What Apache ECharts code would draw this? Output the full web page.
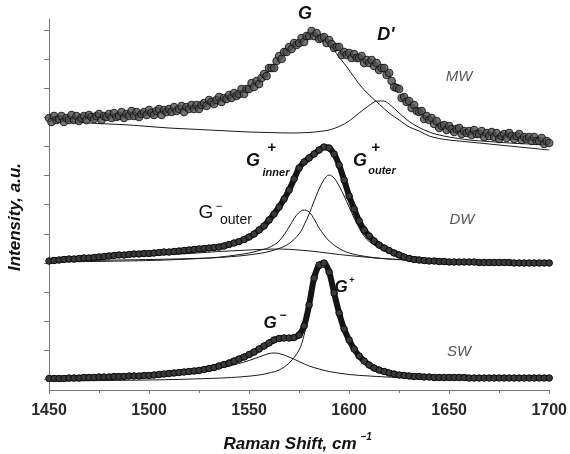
<!DOCTYPE html>
<html>
<head>
<meta charset="utf-8">
<script src="https://cdn.jsdelivr.net/npm/echarts@6/dist/echarts.min.js"></script>
<style>
html,body{margin:0;padding:0;background:#fff;}
#c{width:570px;height:454px;}
</style>
</head>
<body>
<div id="c"></div>
<script>
// Raman shift sampling (cm^-1): MW measured every 1.25, DW/SW every 2.5
const xStart = 1450, mwStep = 1.25, bandStep = 2.5;
const xTicks = [1450, 1500, 1550, 1600, 1650, 1700];
const yTicks = [11, 40, 69, 98, 127, 156, 186, 215, 244, 273, 302, 331, 360];

// Measured spectra (offset intensities, a.u.)
const mwData = [
  272,268,274,270,271,274,268,272,
  270,275,270,274,269,272,274,270,
  275,273,271,274,276,270,274,273,
  276,272,277,273,274,278,272,276,
  274,279,274,278,273,276,278,275,
  280,277,275,279,281,275,280,278,
  281,278,283,279,281,284,278,283,
  281,285,281,285,281,285,287,284,
  290,288,286,290,293,288,292,291,
  295,292,297,294,296,301,296,301,
  301,307,303,309,306,312,316,314,
  322,322,322,329,334,331,338,338,
  343,341,347,345,347,352,348,354,
  354,359,354,357,351,352,353,347,
  350,346,342,343,343,335,338,335,
  337,332,336,332,332,334,327,330,
  327,330,324,327,320,322,322,315,
  317,309,303,302,301,292,293,288,
  289,282,285,279,278,279,271,274,
  270,272,266,269,262,264,265,260,
  264,261,258,261,262,256,259,257,
  259,255,260,256,256,259,253,257,
  254,258,253,257,251,254,256,252,
  257,254,251,254,256,250,253,251,
  253,249,253,249,249,252,246,249,
  247];
const dwData = [
  129,129.5,130,130.5,131,131,131.5,132,132,132.5,
  133,133.5,134,134.5,135,135,135.5,136,136,136.5,
  136.5,137,137.5,138,138,138.5,139,139.5,140,140.5,
  141,141.5,142,142.5,143,144,145.5,147,148.5,150.5,
  153,156,160,164,170,176,183,191,200,211,
  222,228,232,236,240,243,242,236,225,210,
  194,181,169,160,154,149,145,142,139.5,137,
  135,133,131.5,130.5,130,129.5,129,129,128.5,128.5,
  128,128,128,128,128,128,127.5,127.5,127.5,127.5,
  127.5,127.5,127.5,127,127,127,127,127,127,127,
  127];
const swData = [
  11.5,11.5,11.5,11.5,12,12,12,12.5,12.5,12.5,
  13,13,13,13.5,13.5,13.5,14,14,14,14.5,
  14.5,15,15.5,16,16.5,17,17.5,18,18.5,19,
  19.5,20.5,21.5,22.5,24,25.5,27,29,31,33,
  35.5,38,41,44,47,50,51.5,52,52,52.5,
  55,64,85,112,125,127,118,97,77,61,
  50,41,34,29,25,22,20,18.5,17,16,
  15,14.5,14,13.5,13.5,13,13,12.5,12.5,12.5,
  12.5,12.5,12.5,12.5,12,12,12,12,12,12,
  12,12,12,12,12,12,12,12,12,12,
  12];

// Fitted components [shift, intensity]
const mwFitG = [[1450,270],[1460,271.5],[1470,272.5],[1480,274],[1490,275.5],[1500,277],[1510,279.5],[1520,282],[1530,287],[1540,293],[1545,296.5],[1550,302],[1555,309.5],[1560,319],[1565,331],[1570,341],[1575,347.5],[1580,355],[1582.5,356.5],[1585,354],[1590,346],[1595,333],[1600,320],[1605,306],[1610,295],[1615,286],[1620,277],[1625,270],[1630,263],[1635,259],[1640,254],[1645,251.5],[1650,250],[1660,248],[1670,246],[1680,244],[1690,242],[1700,240]];
const mwFitD = [[1450,270],[1460,268.5],[1470,267],[1480,266],[1490,265],[1500,263.5],[1510,262],[1520,261],[1530,260],[1540,259],[1550,258],[1560,257.5],[1570,257],[1580,257.5],[1585,258.5],[1590,260],[1595,263.5],[1600,269],[1605,277],[1610,284.5],[1614,289],[1617,289],[1620,286],[1625,277],[1630,268.5],[1635,262.5],[1640,258],[1645,255],[1650,253],[1660,250],[1670,248.5],[1680,247],[1690,246],[1700,245]];
const dwFitOuterP = [[1450,129],[1500,130.5],[1530,132],[1545,134],[1555,136.5],[1560,138.5],[1565,141.5],[1570,146.5],[1575,156],[1577.5,165],[1580,176],[1582.5,189],[1585,201],[1587.5,210.5],[1590,215],[1592.5,212],[1595,204],[1597.5,194],[1600,183],[1602.5,172],[1605,162],[1607.5,154],[1610,148.5],[1615,142],[1620,138],[1630,134],[1640,131.5],[1650,130],[1670,128.5],[1700,127]];
const dwFitInnerP = [[1450,128],[1500,129.5],[1530,132],[1540,134],[1550,137],[1555,139.5],[1560,142.5],[1565,149],[1570,163],[1572.5,171.5],[1575,177.5],[1577.5,180],[1580,178],[1582.5,171],[1585,162],[1587.5,155],[1590,149],[1595,141.5],[1600,137],[1610,133],[1620,131],[1640,129],[1670,128],[1700,127]];
const dwFitOuterM = [[1450,131],[1480,133],[1500,134.5],[1520,136.5],[1535,138.5],[1545,139.5],[1555,140.5],[1565,141],[1575,140],[1585,138],[1595,135.5],[1605,133.5],[1620,131],[1640,129.5],[1660,128.5],[1700,127]];
const swFitM = [[1450,11],[1480,12.5],[1500,14],[1510,15.5],[1520,17.5],[1530,20],[1540,24],[1545,26.5],[1550,29.5],[1555,33],[1560,36.5],[1562.5,37],[1565,36.5],[1570,33],[1575,28.5],[1580,24],[1585,21],[1590,18.5],[1600,15.5],[1610,14],[1625,12.5],[1650,11.5],[1700,11]];
const swFitP = [[1450,9],[1500,10],[1530,11.5],[1545,13],[1555,15],[1560,17],[1565,20],[1570,27],[1575,40],[1577.5,55],[1580,77],[1582.5,104],[1585,120],[1587.5,123],[1590,115],[1592.5,95],[1595,75],[1597.5,59],[1600,48],[1605,32],[1610,23.5],[1615,18.5],[1620,16],[1630,13],[1650,11.5],[1700,11]];

const pair = (arr, step) => arr.map((v, i) => [xStart + i * step, v]);
const FF = '"Liberation Sans", Arial, sans-serif';
const fitLine = d => ({type:'line', data:d, smooth:0.35, showSymbol:false, symbol:'none',
  lineStyle:{color:'#1a1a1a', width:1}, z:3, silent:true});
const bandLine = d => ({type:'line', data:pair(d, bandStep), smooth:0.3, symbol:'circle', symbolSize:6.5,
  showSymbol:true, showAllSymbol:true,
  itemStyle:{color:'#3a3a3a', borderColor:'#0a0a0a', borderWidth:1},
  lineStyle:{color:'#151515', width:6}, z:4, silent:true});

const chart = echarts.init(document.getElementById('c'), null, {renderer:'canvas'});
const txt = (t, x, y, font, fill, extra) => Object.assign({type:'text', x:x, y:y, silent:true,
  style:{text:t, font:font, fill:fill||'#111', align:'center', verticalAlign:'middle'}, z:10}, extra||{});
const BI = s => 'italic bold ' + s + 'px ' + FF;
const R = s => s + 'px ' + FF;
const I = s => 'italic ' + s + 'px ' + FF;

chart.setOption({
  animation:false,
  grid:{left:49, right:19, top:19, bottom:64},
  xAxis:{type:'value', min:1450, max:1700, interval:50,
    axisLine:{lineStyle:{color:'#777', width:1}},
    axisTick:{length:4, lineStyle:{color:'#777'}},
    minorTick:{show:true, splitNumber:2, length:3, lineStyle:{color:'#777'}},
    splitLine:{show:false}, minorSplitLine:{show:false},
    axisLabel:{color:'#2a2a2a', fontSize:16, fontWeight:'bold', fontFamily:FF, margin:13, formatter:v => String(v)}},
  yAxis:{type:'value', min:0, max:371,
    axisLine:{show:true, lineStyle:{color:'#777', width:1}},
    axisTick:{show:true, length:5, customValues:yTicks, lineStyle:{color:'#777'}},
    axisLabel:{show:false}, splitLine:{show:false}},
  series:[
    fitLine(mwFitG), fitLine(mwFitD),
    fitLine(dwFitOuterP), fitLine(dwFitInnerP), fitLine(dwFitOuterM),
    fitLine(swFitM), fitLine(swFitP),
    {type:'scatter', data:pair(mwData, mwStep), symbol:'circle', symbolSize:7.5, large:false,
      itemStyle:{color:'#505050', borderColor:'#0e0e0e', borderWidth:1.1}, z:5, silent:true},
    bandLine(dwData), bandLine(swData)
  ],
  graphic:[
    txt('G', 305, 14, BI(18)),
    txt("D'", 386, 35, BI(18)),
    txt('MW', 459, 77, I(15), '#555'),
    txt('DW', 462, 220, I(15), '#555'),
    txt('SW', 459, 352, I(15), '#555'),
    txt('G', 253, 161, BI(18)), txt('+', 272, 148, 'bold 15px ' + FF), txt('inner', 276, 173, BI(11)),
    txt('G', 360, 161, BI(18)), txt('+', 376, 148, 'bold 15px ' + FF), txt('outer', 382, 171, BI(11)),
    txt('G', 206, 213, R(19)), txt('\u2212', 219, 207, R(12)), txt('outer', 236, 220, R(14)),
    txt('G', 270, 323, BI(17)), txt('\u2212', 283, 316, 'bold 12px ' + FF),
    txt('G', 341, 287, BI(17)), txt('+', 352, 281, 'bold 9px ' + FF),
    txt('Raman Shift, cm', 290, 444, BI(17)), txt('\u22121', 366, 437, BI(10)),
    txt('Intensity, a.u.', 15, 217, BI(17), '#111', {rotation:Math.PI/2})
  ]
});
</script>
</body>
</html>
